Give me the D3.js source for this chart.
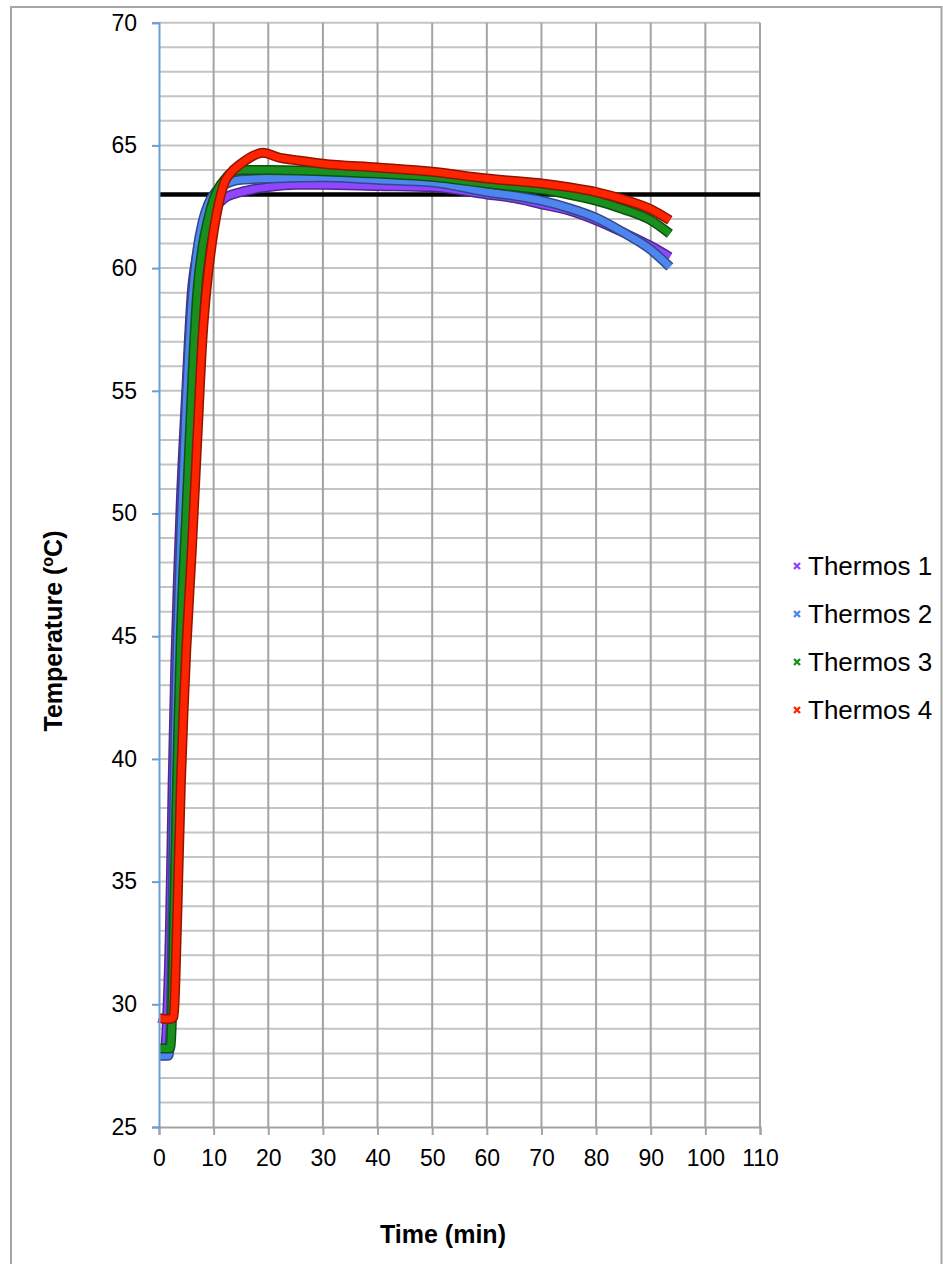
<!DOCTYPE html>
<html><head><meta charset="utf-8">
<script src="https://cdn.jsdelivr.net/npm/d3@7"></script>
<style>body{margin:0;background:#fff}svg{display:block}text{font-family:"Liberation Sans",Arial,sans-serif}</style>
</head><body><svg id="c" width="943" height="1264"></svg>
<script>
const seriesNames = ["Thermos 1","Thermos 2","Thermos 3","Thermos 4"];
const seriesColors = ["#9146ff","#4f85ee","#18901c","#ff2400"];
const xTicks = [0,10,20,30,40,50,60,70,80,90,100,110];
const yTicks = [25,30,35,40,45,50,55,60,65,70];
const targetTemp = 63;

const t1Time = [0,1,1.5,2,2.5,3,3.5,4,5,6,7,8,9,10,12,15,20,25,30,40,50,60,65,70,75,80,85,90,93.5];
const t1Temp = [28.0,28.0,29.5,33,39,44,47.5,50.5,55,59,60.6,61.5,62.0,62.4,62.85,63.1,63.3,63.4,63.4,63.35,63.3,63.0,62.85,62.6,62.35,61.95,61.45,60.9,60.45];

const t2Time = [0,1,1.7,2.2,2.5,3,3.5,4,5,6,7,8,9,10,12,15,20,30,40,50,60,65,70,75,80,85,90,93.5];
const t2Temp = [27.9,27.9,27.9,29.5,34,41,45.5,49,54.5,58.5,60.7,61.9,62.6,63.0,63.4,63.6,63.65,63.7,63.6,63.5,63.1,62.95,62.75,62.45,62.05,61.45,60.75,60.05];

const t3Time = [0,1,2,2.3,2.7,3,3.5,4,5,5.5,6,7,8,9,10,11,12,13,15,20,30,40,50,60,65,70,75,80,85,90,93.5];
const t3Temp = [28.2,28.2,28.2,29,33,36,41,45,50,52.5,55,59,60.9,62.0,62.8,63.3,63.6,63.85,64.0,64.0,63.95,63.85,63.72,63.45,63.32,63.2,63.0,62.75,62.4,61.95,61.4];

const t4Time = [0,1,2,2.7,3,3.5,4,4.5,5,6,7,8,8.5,9,10,11,12,13,15,17,19,22,25,30,40,50,60,65,70,75,80,85,90,93.5];
const t4Temp = [29.45,29.4,29.4,29.5,31,35,39,42,44.5,48.5,53,57.3,58.7,59.8,61.5,62.7,63.5,63.85,64.25,64.55,64.7,64.5,64.4,64.25,64.1,63.93,63.65,63.55,63.45,63.3,63.1,62.8,62.4,61.95];

const times = [t1Time,t2Time,t3Time,t4Time];
const temps = [t1Temp,t2Temp,t3Temp,t4Temp];

const svg = d3.select("#c");
const L=159, R=760, T=22.7, B=1127;
const x = d3.scaleLinear().domain([0,110]).range([L,R]);
const y = d3.scaleLinear().domain([25,70]).range([B,T]);
const FONT = "Liberation Sans, Arial, sans-serif";

// outer frame
svg.append("rect").attr("x",11).attr("y",7).attr("width",930.5).attr("height",1275)
  .attr("fill","none").attr("stroke","#a6a6a6").attr("stroke-width",2);

// horizontal grid every 1
const g = svg.append("g");
g.selectAll("line.h").data(d3.range(26,71)).join("line")
  .attr("x1",L).attr("x2",R).attr("y1",d=>y(d)).attr("y2",d=>y(d))
  .attr("stroke","#c4c4c4").attr("stroke-width",2);
// vertical grid
g.selectAll("line.v").data(xTicks.slice(1)).join("line")
  .attr("x1",d=>x(d)).attr("x2",d=>x(d)).attr("y1",T).attr("y2",B)
  .attr("stroke","#a3a3a3").attr("stroke-width",2);

// x axis
const xa = svg.append("g").attr("transform",`translate(0,${B})`)
  .call(d3.axisBottom(x).tickValues(xTicks).tickSize(8).tickPadding(15));
xa.select(".domain").attr("stroke","#a3a3a3").attr("stroke-width",2);
xa.selectAll(".tick line").attr("stroke","#a3a3a3").attr("stroke-width",2);
xa.selectAll(".tick text").attr("font-size",23).attr("fill","#000").attr("font-family",FONT);

// target line
svg.append("line").attr("x1",L).attr("x2",R).attr("y1",y(targetTemp)).attr("y2",y(targetTemp))
  .attr("stroke","#000").attr("stroke-width",4.5);

// series
const line = d3.line().x(d=>x(d[0])).y(d=>y(d[1])).curve(d3.curveMonotoneX);
const sg = svg.append("g");
seriesNames.forEach((n,i)=>{
  const pts = times[i].map((t,j)=>[t,temps[i][j]]);
  sg.append("path").datum(pts).attr("d",line).attr("fill","none")
    .attr("stroke",d3.color(seriesColors[i]).darker(1.6)).attr("stroke-width",10).attr("stroke-linejoin","round");
  sg.append("path").datum(pts).attr("d",line).attr("fill","none")
    .attr("stroke",seriesColors[i]).attr("stroke-width",7).attr("stroke-linejoin","round");
});

// y axis
const ya = svg.append("g").attr("transform",`translate(${L},0)`)
  .call(d3.axisLeft(y).tickValues(yTicks).tickSize(7).tickPadding(15));
ya.select(".domain").attr("stroke","#6a9fd6").attr("stroke-width",2);
ya.selectAll(".tick line").attr("stroke","#6a9fd6").attr("stroke-width",2);
ya.selectAll(".tick text").attr("font-size",23).attr("fill","#000").attr("font-family",FONT);

// axis titles
svg.append("text").attr("x",443).attr("y",1243).attr("text-anchor","middle")
  .attr("font-size",25).attr("font-weight","bold").text("Time (min)");
const yt = svg.append("text").attr("transform","translate(62,631) rotate(-90)").attr("text-anchor","middle")
  .attr("font-size",25).attr("font-weight","bold");
yt.append("tspan").text("Temperature (");
yt.append("tspan").attr("font-size",16).attr("dy",-9).text("o");
yt.append("tspan").attr("dy",9).text("C)");

// legend
const lg = svg.append("g");
seriesNames.forEach((n,i)=>{
  const cy = 566 + i*48;
  const m = lg.append("g").attr("transform",`translate(797,${cy})`);
  m.append("path").attr("d","M-3,-3L3,3M-3,3L3,-3").attr("stroke",seriesColors[i]).attr("stroke-width",2.4);
  lg.append("text").attr("x",808).attr("y",cy+9).attr("font-size",26).attr("fill","#000").text(n);
});
</script></body></html>
